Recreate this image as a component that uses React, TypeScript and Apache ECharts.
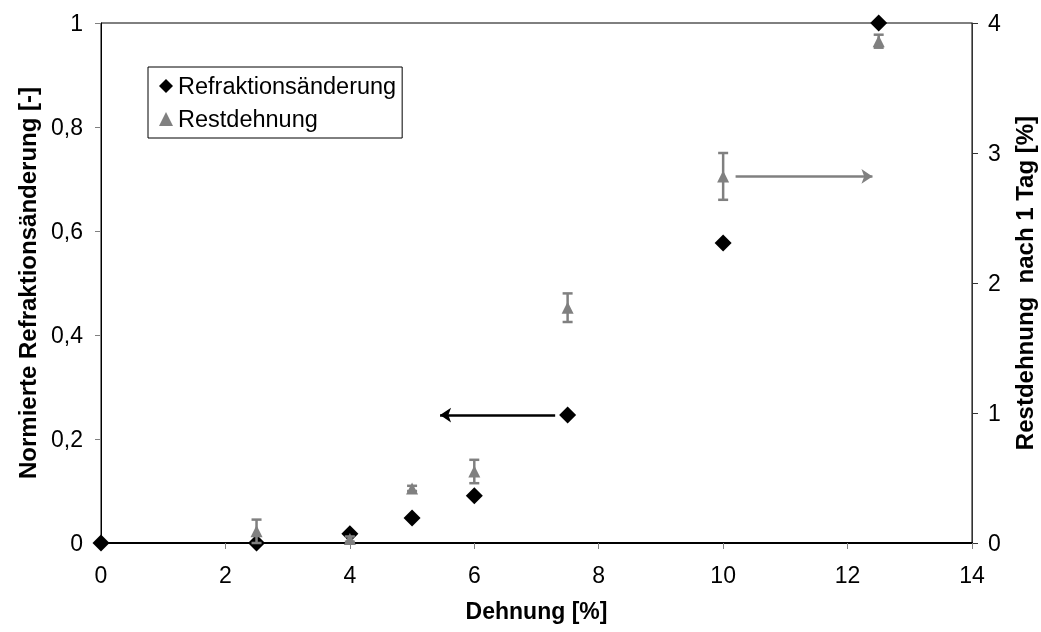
import React, { useEffect, useRef } from "react";
import * as echarts from "echarts";

const xRef = [0, 2.5, 4, 5, 6, 7.5, 10, 12.5];
const refVals = [0, 0, 0.018, 0.048, 0.091, 0.246, 0.577, 1.0];
const xRest = [2.5, 4, 5, 6, 7.5, 10, 12.5];
const restVals = [0.09, 0.03, 0.42, 0.55, 1.81, 2.82, 3.86];
const restErr = [0.09, 0.02, 0.02, 0.09, 0.11, 0.18, 0.05];
const leftArrow = [[7.3, 0.246], [5.45, 0.246]];
const rightArrow = [[10.2, 2.82], [12.4, 2.82]];

const FONT = "'Liberation Sans', Arial, sans-serif";
const GRAY = "#808080";

export default function App() {
  const ref = useRef<HTMLDivElement>(null);
  useEffect(() => {
    const chart = echarts.init(ref.current!, null, { renderer: "svg" });
    const comma = (v: number) => String(v).replace(".", ",");
    chart.setOption({
      animation: false,
      grid: {
        left: 101,
        right: 69,
        top: 23,
        bottom: 89,
        outerBoundsMode: "none",
        containLabel: false,
        show: true,
        borderColor: "#000",
        borderWidth: 1,
      },
      legend: {
        left: 148,
        top: 67,
        orient: "vertical",
        borderColor: "#000",
        borderWidth: 1,
        padding: [7, 6, 7, 11],
        itemGap: 9,
        itemWidth: 14,
        itemHeight: 14,
        textStyle: { fontFamily: FONT, fontSize: 23.5, color: "#000" },
        data: [
          { name: "Refraktionsänderung", icon: "diamond", itemStyle: { color: "#000", opacity: 1 } },
          { name: "Restdehnung", icon: "triangle", itemStyle: { color: GRAY, opacity: 1 } },
        ],
      },
      xAxis: {
        type: "value",
        min: 0,
        max: 14,
        interval: 2,
        name: "Dehnung [%]",
        nameLocation: "middle",
        nameGap: 56,
        nameTextStyle: { fontFamily: FONT, fontSize: 23, fontWeight: "bold", color: "#000" },
        axisLine: { lineStyle: { color: "#000", width: 2 } },
        axisTick: { show: true, length: 6, lineStyle: { color: GRAY } },
        axisLabel: { fontFamily: FONT, fontSize: 23, color: "#000", margin: 20 },
        splitLine: { show: false },
      },
      yAxis: [
        {
          type: "value",
          min: 0,
          max: 1,
          interval: 0.2,
          name: "Normierte Refraktionsänderung [-]",
          nameLocation: "middle",
          nameGap: 62,
          nameTextStyle: { fontFamily: FONT, fontSize: 24, fontWeight: "bold", color: "#000" },
          axisLine: { show: true, lineStyle: { color: "#000", width: 1 } },
          axisTick: { show: true, length: 6, lineStyle: { color: GRAY } },
          axisLabel: { fontFamily: FONT, fontSize: 23, color: "#000", margin: 18, formatter: comma },
          splitLine: { show: false },
        },
        {
          type: "value",
          min: 0,
          max: 4,
          interval: 1,
          position: "right",
          name: "Restdehnung  nach 1 Tag [%]",
          nameLocation: "middle",
          nameGap: 40,
          nameRotate: 90,
          nameTextStyle: { fontFamily: FONT, fontSize: 24, fontWeight: "bold", color: "#000" },
          axisLine: { show: true, lineStyle: { color: "#333", width: 1 } },
          axisTick: { show: true, length: 6, lineStyle: { color: "#333" } },
          axisLabel: { fontFamily: FONT, fontSize: 23, color: "#000", margin: 16, formatter: comma },
          splitLine: { show: false },
        },
      ],
      series: [
        {
          name: "Refraktionsänderung",
          type: "scatter",
          yAxisIndex: 0,
          symbol: "diamond",
          symbolSize: 17,
          clip: false,
          z: 3,
          itemStyle: { color: "#000", opacity: 1 },
          data: xRef.map((x, i) => [x, refVals[i]]),
          markLine: {
            silent: true,
            symbol: ["none", "arrow"],
            symbolSize: 11,
            label: { show: false },
            lineStyle: { color: "#000", width: 2.5, type: "solid", opacity: 1 },
            data: [[{ coord: leftArrow[0] }, { coord: leftArrow[1] }]],
          },
        },
        {
          name: "Restdehnung",
          type: "scatter",
          yAxisIndex: 1,
          symbol: "triangle",
          symbolSize: 12,
          clip: false,
          z: 5,
          itemStyle: { color: GRAY, opacity: 1 },
          data: xRest.map((x, i) => [x, restVals[i]]),
          markLine: {
            silent: true,
            symbol: ["none", "arrow"],
            symbolSize: 11,
            label: { show: false },
            lineStyle: { color: GRAY, width: 2.5, type: "solid", opacity: 1 },
            data: [[{ coord: rightArrow[0] }, { coord: rightArrow[1] }]],
          },
        },
        {
          name: "err",
          type: "custom",
          yAxisIndex: 1,
          z: 4,
          clip: false,
          data: xRest.map((x, i) => [x, restVals[i] - restErr[i], restVals[i] + restErr[i]]),
          renderItem: (params: any, api: any) => {
            const lo = api.coord([api.value(0), api.value(1)]);
            const hi = api.coord([api.value(0), api.value(2)]);
            const w = 5;
            const st = { stroke: GRAY, lineWidth: 2.5 };
            return {
              type: "group",
              children: [
                { type: "line", shape: { x1: lo[0], y1: lo[1], x2: hi[0], y2: hi[1] }, style: st },
                { type: "line", shape: { x1: hi[0] - w, y1: hi[1], x2: hi[0] + w, y2: hi[1] }, style: st },
                { type: "line", shape: { x1: lo[0] - w, y1: lo[1], x2: lo[0] + w, y2: lo[1] }, style: st },
              ],
            };
          },
        },
      ],
    });
    return () => chart.dispose();
  }, []);
  return (
    <div
      ref={ref}
      style={{ position: "fixed", left: 0, top: 0, width: 1041, height: 632, overflow: "hidden" }}
    />
  );
}
